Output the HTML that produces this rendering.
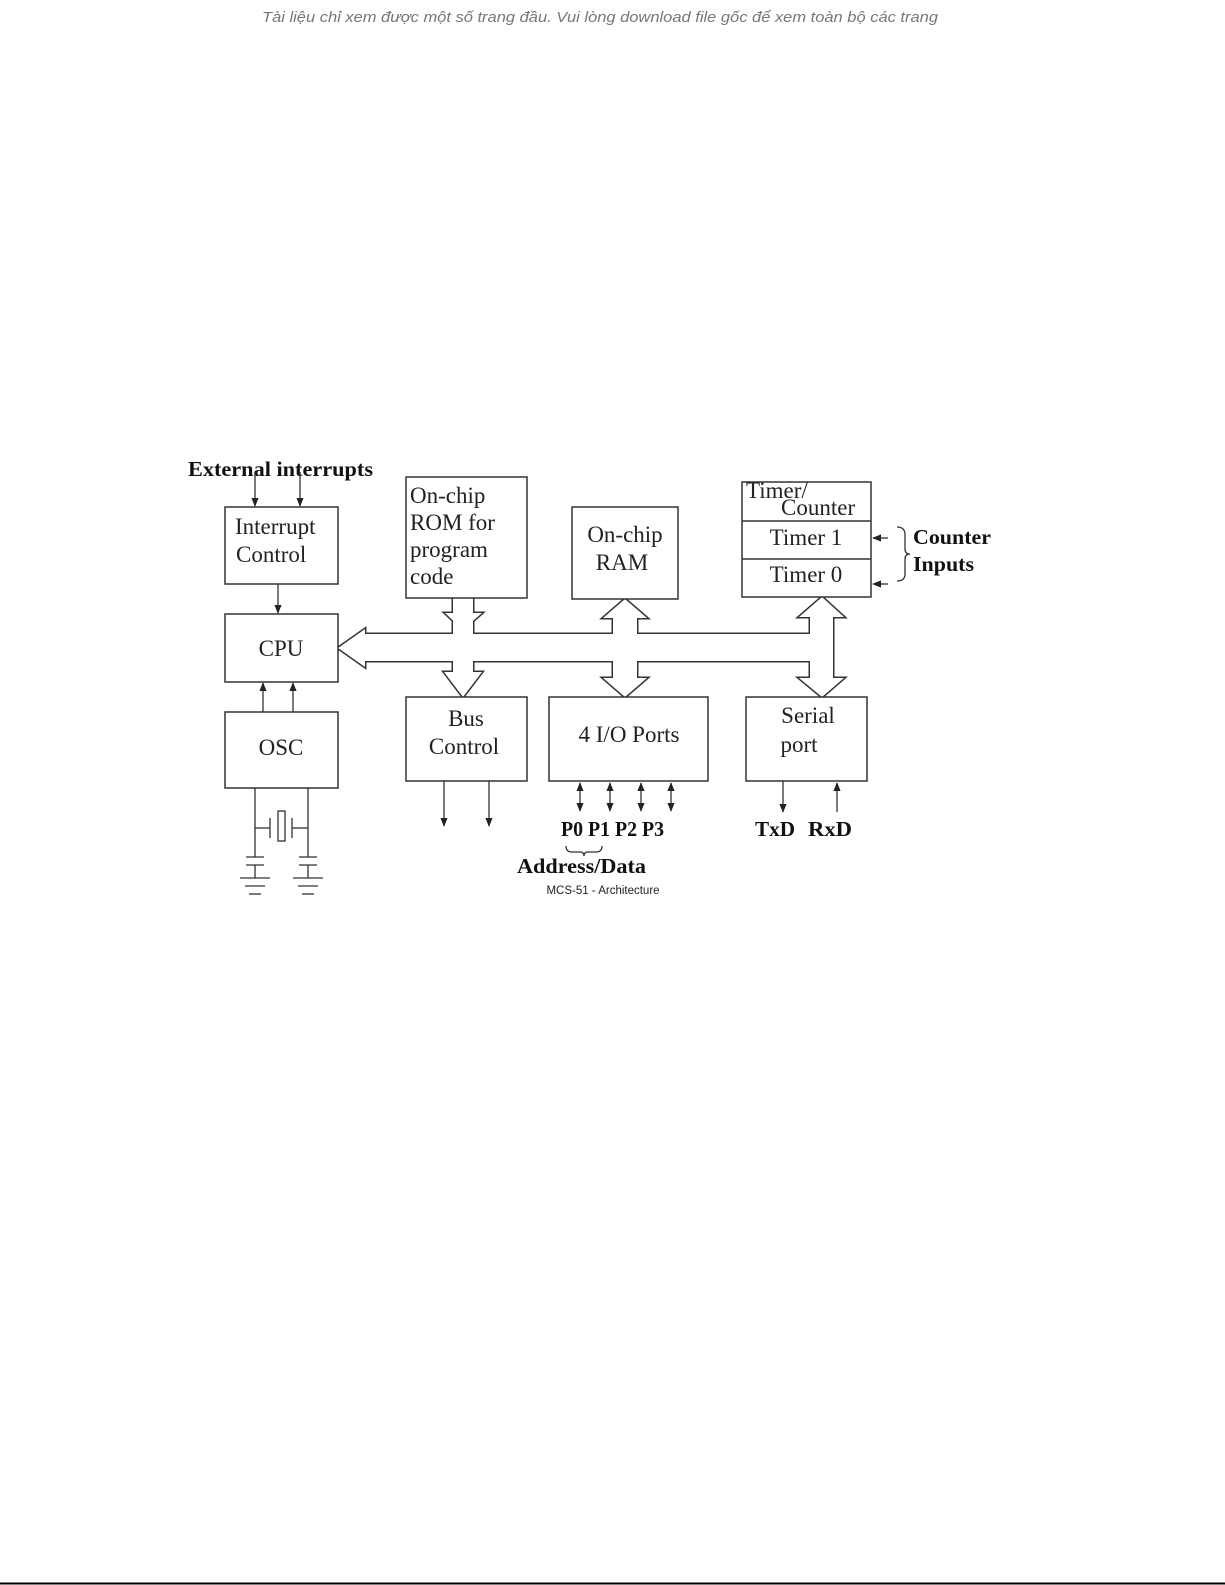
<!DOCTYPE html>
<html><head><meta charset="utf-8"><style>
html,body{margin:0;padding:0;background:#fff;}
svg{display:block;}
.b{font-family:"Liberation Serif",serif;font-size:23px;fill:#222;}
.bb{font-family:"Liberation Serif",serif;font-weight:bold;font-size:21px;fill:#111;}
</style></head><body>
<svg width="1225" height="1585" viewBox="0 0 1225 1585" xmlns="http://www.w3.org/2000/svg">
<defs>
<marker id="ah" viewBox="0 0 10 10" refX="9" refY="5" markerWidth="7" markerHeight="7" orient="auto-start-reverse"><path d="M0,1 L10,5 L0,9 z" fill="#222"/></marker>
</defs>
<text x="600" y="22" text-anchor="middle" font-family="'Liberation Sans',sans-serif" font-style="italic" font-size="15" fill="#777" textLength="676" lengthAdjust="spacingAndGlyphs">Tài liệu chỉ xem được một số trang đầu. Vui lòng download file gốc để xem toàn bộ các trang</text>
<line x1="0" y1="1583.5" x2="1225" y2="1583.5" stroke="#000" stroke-width="2"/>

<g id="bus">
<g stroke="#333" stroke-width="3" fill="#333" stroke-linejoin="miter">
<rect x="362" y="634" width="460" height="27"/>
<polygon points="338,648 365,629 365,667"/>
<rect x="453" y="598" width="20" height="45"/>
<polygon points="445,613 482,613 463,630"/>
<rect x="453" y="650" width="20" height="25"/>
<polygon points="444,672 482,672 463,697"/>
<rect x="613" y="615" width="24" height="66"/>
<polygon points="603,618 647,618 625,599"/>
<polygon points="603,678 647,678 625,697"/>
<rect x="810" y="615" width="23" height="66"/>
<polygon points="799,617 844,617 822,597"/>
<polygon points="799,678 844,678 822,697"/>
</g>
<g fill="#fff">
<rect x="362" y="634" width="460" height="27"/>
<polygon points="338,648 365,629 365,667"/>
<rect x="453" y="596" width="20" height="47"/>
<polygon points="445,613 482,613 463,630"/>
<rect x="453" y="650" width="20" height="25"/>
<polygon points="444,672 482,672 463,697"/>
<rect x="613" y="615" width="24" height="66"/>
<polygon points="603,618 647,618 625,599"/>
<polygon points="603,678 647,678 625,697"/>
<rect x="810" y="615" width="23" height="66"/>
<polygon points="799,617 844,617 822,597"/>
<polygon points="799,678 844,678 822,697"/>
</g>
</g>

<g fill="#fff" stroke="#333" stroke-width="1.5">
<rect x="225" y="507" width="113" height="77"/>
<rect x="225" y="614" width="113" height="68"/>
<rect x="225" y="712" width="113" height="76"/>
<rect x="406" y="477" width="121" height="121"/>
<rect x="406" y="697" width="121" height="84"/>
<rect x="572" y="507" width="106" height="92"/>
<rect x="742" y="482" width="129" height="115"/>
<rect x="549" y="697" width="159" height="84"/>
<rect x="746" y="697" width="121" height="84"/>
</g>
<line x1="742" y1="521" x2="871" y2="521" stroke="#333" stroke-width="1.5"/>
<line x1="742" y1="559" x2="871" y2="559" stroke="#333" stroke-width="1.5"/>

<g class="b">
<text x="235" y="534">Interrupt</text>
<text x="236" y="562">Control</text>
<text x="281" y="656" text-anchor="middle">CPU</text>
<text x="281" y="755" text-anchor="middle">OSC</text>
<text x="410" y="503">On-chip</text>
<text x="410" y="530">ROM for</text>
<text x="410" y="557">program</text>
<text x="410" y="584">code</text>
<text x="466" y="726" text-anchor="middle">Bus</text>
<text x="464" y="754" text-anchor="middle">Control</text>
<text x="625" y="542" text-anchor="middle">On-chip</text>
<text x="622" y="570" text-anchor="middle">RAM</text>
<text x="746" y="498">Timer/</text>
<text x="781" y="515">Counter</text>
<text x="806" y="545" text-anchor="middle">Timer 1</text>
<text x="806" y="582" text-anchor="middle">Timer 0</text>
<text x="629" y="742" text-anchor="middle">4 I/O Ports</text>
<text x="808" y="723" text-anchor="middle">Serial</text>
<text x="799" y="752" text-anchor="middle">port</text>
</g>

<g class="bb">
<text x="188" y="476" textLength="185" lengthAdjust="spacingAndGlyphs">External interrupts</text>
<text x="913" y="544" textLength="78" lengthAdjust="spacingAndGlyphs">Counter</text>
<text x="913" y="571" textLength="61" lengthAdjust="spacingAndGlyphs">Inputs</text>
<text x="561" y="836" textLength="103" lengthAdjust="spacingAndGlyphs">P0 P1 P2 P3</text>
<text x="517" y="873" textLength="129" lengthAdjust="spacingAndGlyphs">Address/Data</text>
<text x="755" y="836" textLength="40" lengthAdjust="spacingAndGlyphs">TxD</text>
<text x="808" y="836" textLength="44" lengthAdjust="spacingAndGlyphs">RxD</text>
</g>
<text x="603" y="894" text-anchor="middle" font-family="'Liberation Sans',sans-serif" font-size="11.5" fill="#222">MCS-51 - Architecture</text>

<g stroke="#333" stroke-width="1.3" fill="none">
<line x1="255" y1="472" x2="255" y2="506" marker-end="url(#ah)"/>
<line x1="300" y1="472" x2="300" y2="506" marker-end="url(#ah)"/>
<line x1="278" y1="584" x2="278" y2="613" marker-end="url(#ah)"/>
<line x1="263" y1="712" x2="263" y2="683" marker-end="url(#ah)"/>
<line x1="293" y1="712" x2="293" y2="683" marker-end="url(#ah)"/>
<line x1="444" y1="781" x2="444" y2="826" marker-end="url(#ah)"/>
<line x1="489" y1="781" x2="489" y2="826" marker-end="url(#ah)"/>
<line x1="580" y1="783" x2="580" y2="811" marker-start="url(#ah)" marker-end="url(#ah)"/>
<line x1="610" y1="783" x2="610" y2="811" marker-start="url(#ah)" marker-end="url(#ah)"/>
<line x1="641" y1="783" x2="641" y2="811" marker-start="url(#ah)" marker-end="url(#ah)"/>
<line x1="671" y1="783" x2="671" y2="811" marker-start="url(#ah)" marker-end="url(#ah)"/>
<line x1="783" y1="781" x2="783" y2="812" marker-end="url(#ah)"/>
<line x1="837" y1="812" x2="837" y2="783" marker-end="url(#ah)"/>
<line x1="888" y1="538" x2="873" y2="538" marker-end="url(#ah)"/>
<line x1="888" y1="584" x2="873" y2="584" marker-end="url(#ah)"/>
<path d="M897,527 Q905,527 905,535 L905,549 Q905,554 910,554 Q905,554 905,559 L905,574 Q905,581 897,581"/>
<path d="M566,846 Q566,852 572,852 L580,852 Q584,852 584,856 Q584,852 588,852 L596,852 Q602,852 602,846"/>
<line x1="255" y1="788" x2="255" y2="857"/>
<line x1="308" y1="788" x2="308" y2="857"/>
<line x1="255" y1="828" x2="270" y2="828"/>
<line x1="292" y1="828" x2="308" y2="828"/>
<line x1="270" y1="818" x2="270" y2="838"/>
<line x1="292" y1="818" x2="292" y2="838"/>
<rect x="278" y="811" width="7" height="30"/>
<line x1="246" y1="857" x2="264" y2="857"/>
<line x1="299" y1="857" x2="317" y2="857"/>
<line x1="246" y1="865" x2="264" y2="865"/>
<line x1="299" y1="865" x2="317" y2="865"/>
<line x1="255" y1="865" x2="255" y2="878"/>
<line x1="308" y1="865" x2="308" y2="878"/>
<line x1="240" y1="878" x2="270" y2="878"/>
<line x1="293" y1="878" x2="323" y2="878"/>
<line x1="245" y1="886" x2="265" y2="886"/>
<line x1="298" y1="886" x2="318" y2="886"/>
<line x1="249" y1="894" x2="261" y2="894"/>
<line x1="302" y1="894" x2="314" y2="894"/>
</g>
</svg>
</body></html>
